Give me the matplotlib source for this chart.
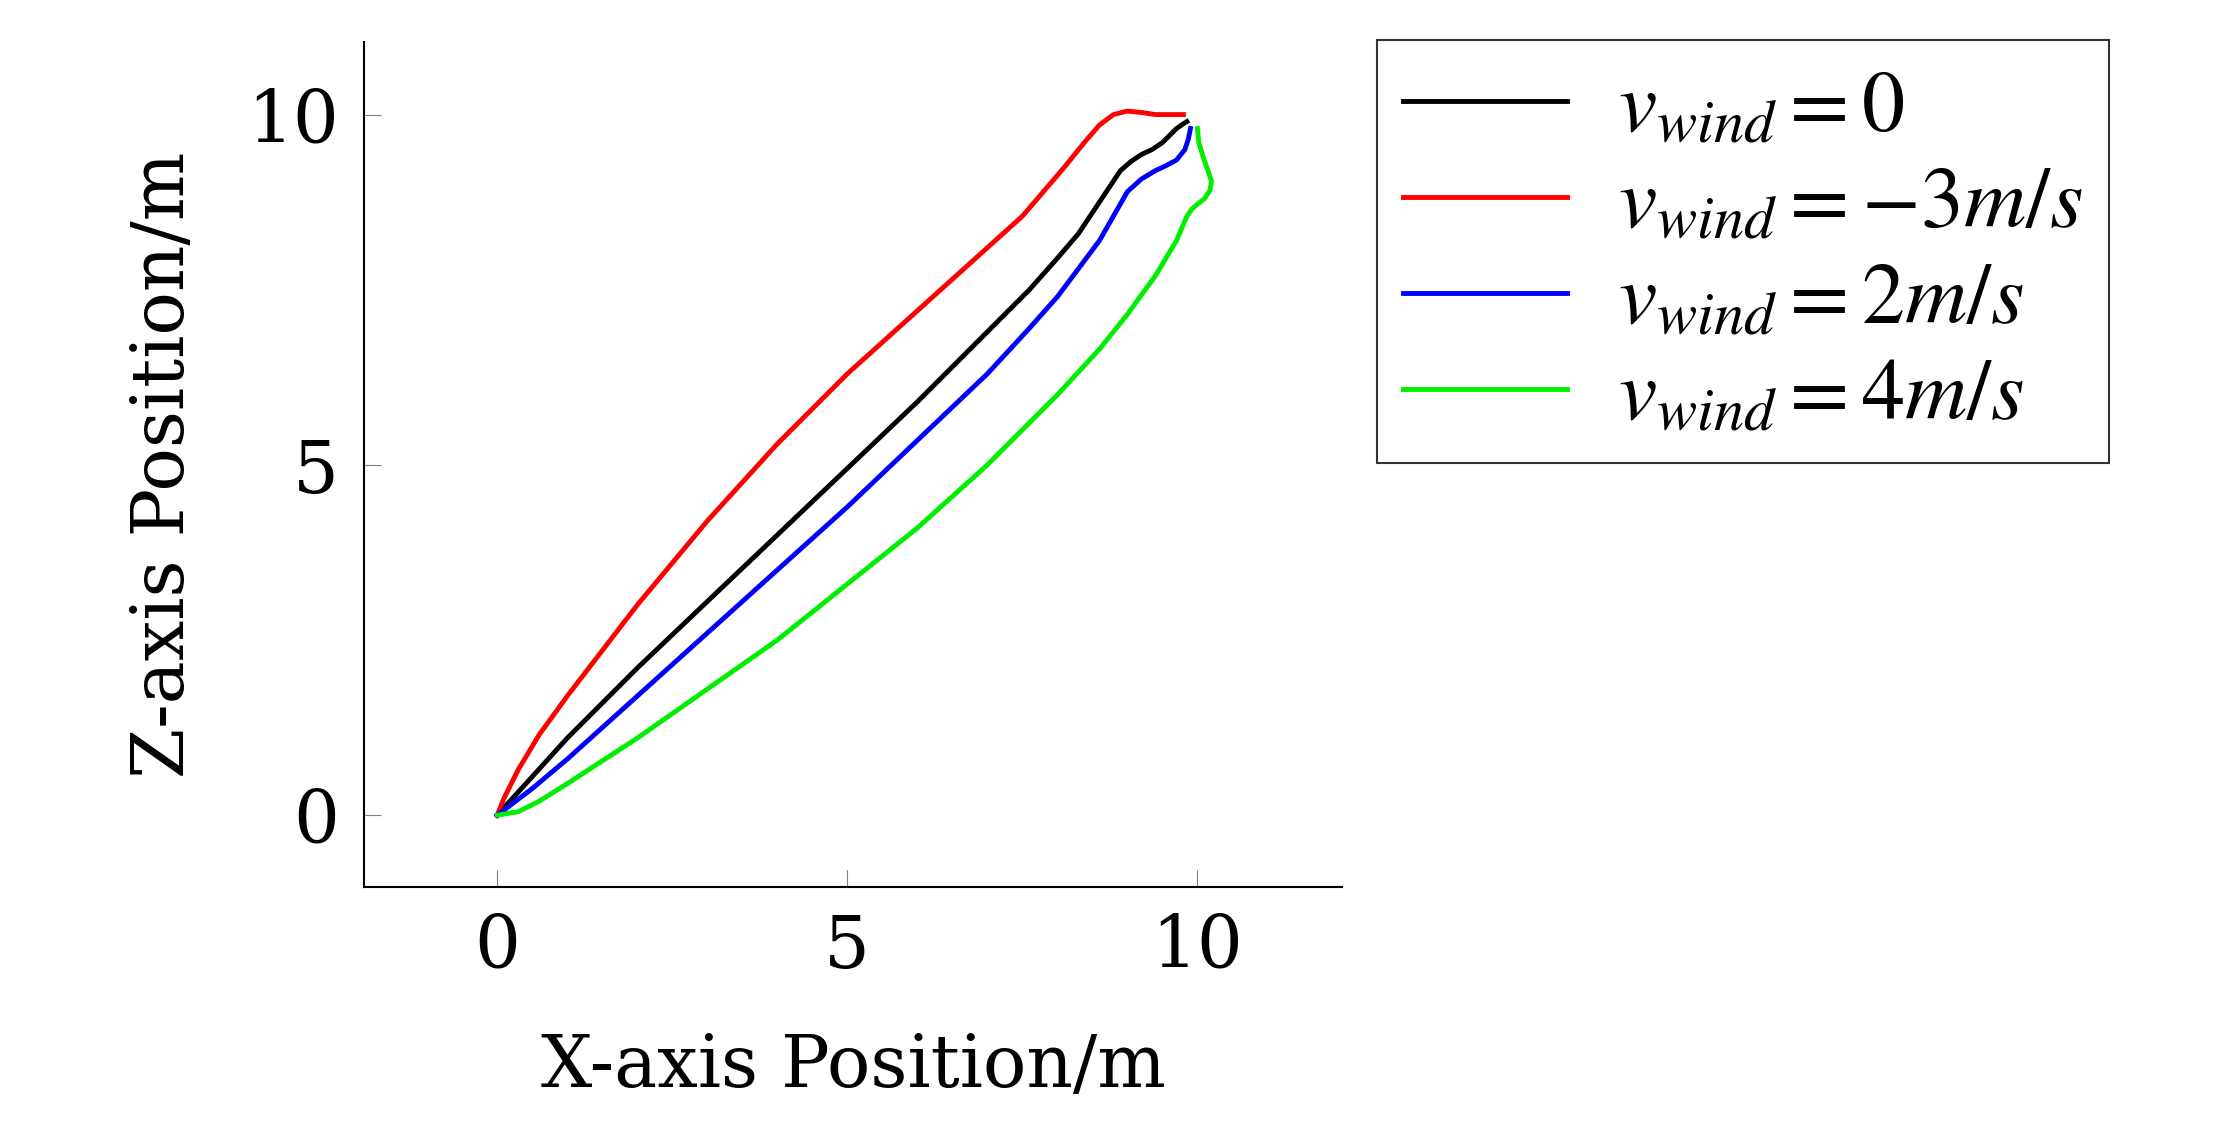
import matplotlib
matplotlib.use("Agg")
import matplotlib.pyplot as plt

plt.rcParams['font.family'] = ['DejaVu Serif']
plt.rcParams['mathtext.fontset'] = 'stix'

black_x = [0, 0.5, 1, 2, 3, 4, 5, 6, 7, 7.6, 8, 8.3, 8.5, 8.7, 8.9, 9.05, 9.2, 9.35, 9.5, 9.6, 9.7, 9.8, 9.85]
black_z = [0, 0.55, 1.1, 2.1, 3.05, 4.0, 4.95, 5.9, 6.9, 7.5, 7.95, 8.3, 8.6, 8.9, 9.2, 9.33, 9.43, 9.5, 9.6, 9.7, 9.8, 9.87, 9.9]
red_x = [0, 0.1, 0.3, 0.6, 1, 1.5, 2, 3, 4, 5, 6, 7, 7.5, 7.8, 8.1, 8.4, 8.6, 8.8, 9.0, 9.2, 9.4, 9.8]
red_z = [0, 0.25, 0.65, 1.15, 1.7, 2.35, 3.0, 4.2, 5.3, 6.3, 7.2, 8.1, 8.55, 8.9, 9.25, 9.62, 9.85, 10.0, 10.05, 10.03, 10.0, 10.0]
blue_x = [0, 0.5, 1, 2, 3, 4, 5, 6, 7, 7.6, 8, 8.3, 8.6, 8.8, 9.0, 9.2, 9.4, 9.55, 9.7, 9.82, 9.87, 9.9]
blue_z = [0, 0.38, 0.8, 1.7, 2.6, 3.5, 4.4, 5.35, 6.3, 6.95, 7.4, 7.8, 8.2, 8.55, 8.9, 9.08, 9.2, 9.27, 9.35, 9.5, 9.65, 9.8]
green_x = [0, 0.3, 0.6, 1, 2, 3, 4, 5, 6, 7, 8, 8.6, 9, 9.4, 9.7, 9.85, 9.92, 10.0, 10.1, 10.18, 10.2, 10.15, 10.08, 10.02, 10.0]
green_z = [0, 0.05, 0.2, 0.45, 1.1, 1.8, 2.5, 3.3, 4.1, 5.0, 6.0, 6.65, 7.15, 7.7, 8.2, 8.55, 8.65, 8.72, 8.8, 8.92, 9.05, 9.2, 9.4, 9.6, 9.8]
labels = [r'$v_{wind}=0$', r'$v_{wind}=-3m/s$', r'$v_{wind}=2m/s$', r'$v_{wind}=4m/s$']

fig = plt.figure(figsize=(22.14, 11.46), dpi=100)
ax = fig.add_axes([0.1645, 0.2257, 0.4415, 0.7373])
lines = []
for xs, zs, c in [(black_x, black_z, 'black'), (red_x, red_z, 'red'),
                  (blue_x, blue_z, 'blue'), (green_x, green_z, '#00ee00')]:
    l, = ax.plot(xs, zs, color=c, lw=3.5, solid_joinstyle='round')
    lines.append(l)
ax.set_xlim(-1.9, 12.06)
ax.set_ylim(-1.03, 11.03)
ax.set_xticks([0, 5, 10])
ax.set_yticks([0, 5, 10])
for s in ['top', 'right']:
    ax.spines[s].set_visible(False)
for s in ['left', 'bottom']:
    ax.spines[s].set_linewidth(1.5)
ax.tick_params(direction='in', length=12, color='gray', labelsize=52, pad=18)
ax.set_xlabel('X-axis Position/m', fontsize=52, labelpad=35)
ax.set_ylabel('Z-axis Position/m', fontsize=52, labelpad=35)

fig.legend(lines, labels, loc='upper left', bbox_to_anchor=(0.622, 0.965),
           borderaxespad=0, fontsize=62, frameon=True, fancybox=False,
           edgecolor='black', handlelength=1.9, borderpad=0.3,
           labelspacing=0.15, handletextpad=0.6).get_frame().set_linewidth(1.5)
fig.savefig('out.png', dpi=100)
